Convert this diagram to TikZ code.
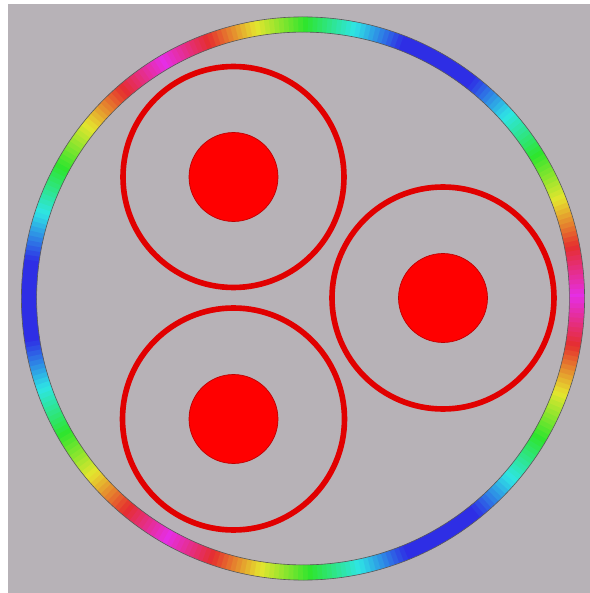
\documentclass[tikz,border=0pt]{standalone}
\usepackage{tikz}
\usepackage{xcolor}
\usetikzlibrary{positioning}

\definecolor{backdrop}{RGB}{183,178,183}
\definecolor{corered}{RGB}{255,0,0}
\definecolor{sheathred}{RGB}{225,0,0}

\tikzset{
  core/.style={circle,draw=corered!75!black,line width=0.4pt,fill=corered,inner sep=0pt,minimum size=1.78cm},
  sheath/.style={draw=sheathred,line width=3.2pt},
  ringband/.style={line width=8.6pt,line cap=butt},
  ringedge/.style={draw=black!65,line width=0.35pt}
}

\begin{document}
\begin{tikzpicture}[x=0.02cm,y=0.02cm]
      % backdrop with the white margin on the left and top
      \useasboundingbox (0,0) rectangle (590,593);
      \fill[white] (0,0) rectangle (590,593);
      \fill[backdrop] (8,0) rectangle (590,589);

      % outer rainbow jacket
      \coordinate (hub) at (303,294.5);
      \foreach \a in {0,...,359}{
        \pgfmathsetmacro{\m}{mod(\a,120)}
        \pgfmathsetmacro{\d}{min(\m,120-\m)}
        \pgfmathsetmacro{\h}{mod(300+min(5.8*\d,300),360)}
        \definecolor{hsbtmp}{Hsb}{\h,0.8,0.9}
        \colorlet{ringhue}[rgb]{hsbtmp}
        \draw[ringband,draw=ringhue] ([shift={(\a:274)}]hub) arc[start angle=\a,end angle=\a+1.3,radius=274];
      }
      \draw[ringedge] (hub) circle (281.6);
      \draw[ringedge] (hub) circle (266.4);

      % three conductors with their sheaths
      \node[core] (coreA) at (233.5,416) {};
      \node[core] (coreB) at (443,295) {};
      \node[core] (coreC) at (233.5,174) {};
      \draw[sheath] (coreA.center) circle (110.5);
      \draw[sheath] (coreB.center) circle (111);
      \draw[sheath] (coreC.center) circle (111);
    \end{tikzpicture}
\end{document}
